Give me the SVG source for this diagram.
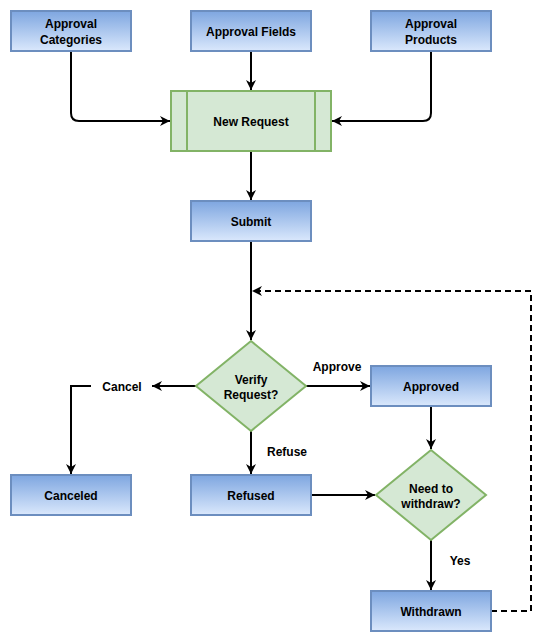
<svg xmlns="http://www.w3.org/2000/svg" width="550" height="642" viewBox="0 0 550 642">
<defs>
<linearGradient id="blue" x1="0" y1="0" x2="0" y2="1">
<stop offset="0" stop-color="#7ea6e0"/>
<stop offset="1" stop-color="#dae8fc"/>
</linearGradient>
<marker id="arr" markerWidth="12" markerHeight="12" viewBox="0 0 12 12" refX="11" refY="6" orient="auto" markerUnits="userSpaceOnUse">
<path d="M1,1 L11,6 L1,11 L4,6 Z" fill="#000"/>
</marker>
<style>
.b{fill:url(#blue);stroke:#6c8ebf;stroke-width:2}
.g{fill:#d5e8d4;stroke:#82b366;stroke-width:2}
.t{font-family:"Liberation Sans",Arial,sans-serif;font-size:12px;font-weight:bold;fill:#000;text-anchor:middle}
.e{fill:none;stroke:#000;stroke-width:2}
.a{marker-end:url(#arr)}
.d{stroke-dasharray:6 4}
</style>
</defs>
<rect width="550" height="642" fill="#fff"/>
<g id="connectors">
<path class="e a" d="M71,51 V113 Q71,121 79,121 H170"/>
<path class="e a" d="M251,51 V90"/>
<path class="e a" d="M431,51 V113 Q431,121 423,121 H332"/>
<path class="e a" d="M251,151 V200"/>
<path class="e a" d="M251,241 V340"/>
<path class="e a" d="M196,386 H152"/>
<path class="e a" d="M91,386 H71 V474"/>
<path class="e a" d="M306,386 H370"/>
<path class="e a" d="M251,431 V474"/>
<path class="e a" d="M431,406 V449"/>
<path class="e a" d="M311,495 H375"/>
<path class="e a" d="M431,540 V590"/>
<path class="e a d" d="M491,611 H531 V291 H252"/>
</g>
<g id="approval-categories"><rect class="b" x="11" y="11" width="120" height="40"/><text class="t" x="71" y="28">Approval</text><text class="t" x="71" y="44">Categories</text></g>
<g id="approval-fields"><rect class="b" x="191" y="11" width="120" height="40"/><text class="t" x="251" y="36">Approval Fields</text></g>
<g id="approval-products"><rect class="b" x="371" y="11" width="120" height="40"/><text class="t" x="431" y="28">Approval</text><text class="t" x="431" y="44">Products</text></g>
<g id="new-request"><rect class="g" x="171" y="91" width="160" height="60"/><line class="g" x1="187" y1="91" x2="187" y2="151"/><line class="g" x1="315" y1="91" x2="315" y2="151"/><text class="t" x="251" y="126">New Request</text></g>
<g id="submit"><rect class="b" x="191" y="201" width="120" height="40"/><text class="t" x="251" y="226">Submit</text></g>
<g id="verify"><path class="g" d="M251,341 L306,386 L251,431 L196,386 Z"/><text class="t" x="251" y="384">Verify</text><text class="t" x="251" y="399">Request?</text></g>
<g id="cancel-label"><text class="t" x="122" y="391">Cancel</text></g>
<g id="approve-label"><text class="t" x="337" y="371">Approve</text></g>
<g id="refuse-label"><text class="t" x="287" y="456">Refuse</text></g>
<g id="yes-label"><text class="t" x="460" y="565">Yes</text></g>
<g id="approved"><rect class="b" x="371" y="366" width="120" height="40"/><text class="t" x="431" y="391">Approved</text></g>
<g id="canceled"><rect class="b" x="11" y="475" width="120" height="40"/><text class="t" x="71" y="500">Canceled</text></g>
<g id="refused"><rect class="b" x="191" y="475" width="120" height="40"/><text class="t" x="251" y="500">Refused</text></g>
<g id="need-withdraw"><path class="g" d="M431,450 L486,495 L431,540 L376,495 Z"/><text class="t" x="431" y="493">Need to</text><text class="t" x="431" y="508">withdraw?</text></g>
<g id="withdrawn"><rect class="b" x="371" y="591" width="120" height="40"/><text class="t" x="431" y="616">Withdrawn</text></g>
</svg>
